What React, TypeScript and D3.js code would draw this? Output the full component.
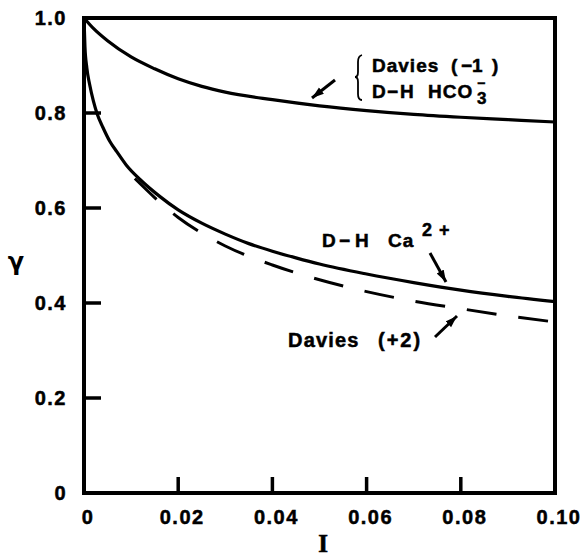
import React from "react";
import * as d3 from "d3";

const xTicks = [0, 0.02, 0.04, 0.06, 0.08, 0.1];
const xTickLabels = ["0", "0.02", "0.04", "0.06", "0.08", "0.10"];
const yTicks = [0, 0.2, 0.4, 0.6, 0.8, 1.0];
const yTickLabels = ["0", "0.2", "0.4", "0.6", "0.8", "1.0"];

// Davies (-1) / D-H HCO3-
const monoI = [0, 0.002, 0.005, 0.01, 0.015, 0.02, 0.025, 0.03, 0.04, 0.05, 0.06, 0.07, 0.08, 0.09, 0.1];
const monoG = [1.0, 0.978, 0.952, 0.918, 0.893, 0.872, 0.856, 0.844, 0.828, 0.815, 0.805, 0.797, 0.791, 0.786, 0.781];

// D-H Ca2+
const caI = [0, 0.0002, 0.0006, 0.0012, 0.002, 0.0028, 0.004, 0.0055, 0.007, 0.009, 0.0119, 0.016, 0.02, 0.025, 0.03, 0.035, 0.04, 0.045, 0.05, 0.06, 0.07, 0.08, 0.09, 0.1];
const caG = [1.0, 0.94, 0.895, 0.86, 0.825, 0.798, 0.77, 0.74, 0.718, 0.69, 0.66, 0.625, 0.596, 0.568, 0.545, 0.525, 0.509, 0.495, 0.482, 0.461, 0.443, 0.427, 0.414, 0.403];

// Davies (+2)
const dvI = [0.0108, 0.015, 0.02, 0.025, 0.03, 0.04, 0.05, 0.06, 0.07, 0.08, 0.09, 0.1];
const dvG = [0.662, 0.622, 0.58, 0.547, 0.52, 0.48, 0.449, 0.424, 0.404, 0.388, 0.373, 0.36];

const W = 584;
const H = 557;
const left = 84;
const right = 555;
const top = 18;
const bottom = 493;

const font = "'Liberation Sans', Arial, Helvetica, sans-serif";

export default function App() {
  const x = d3.scaleLinear().domain([0, 0.1]).range([left, right]);
  const y = d3.scaleLinear().domain([0, 1]).range([bottom, top]);
  const line = d3
    .line<[number, number]>()
    .x((d) => x(d[0]))
    .y((d) => y(d[1]))
    .curve(d3.curveMonotoneX);

  const mono = monoI.map((v, i) => [v, monoG[i]] as [number, number]);
  const ca = caI.map((v, i) => [v, caG[i]] as [number, number]);
  const dv = dvI.map((v, i) => [v, dvG[i]] as [number, number]);

  const textStyle = {
    fontFamily: font,
    fontWeight: 700,
    fill: "#000",
    stroke: "#000",
    strokeWidth: 0.5,
  } as const;

  return (
    <svg
      width={W}
      height={H}
      viewBox={`0 0 ${W} ${H}`}
      style={{ position: "absolute", left: 0, top: 0, background: "#fff" }}
    >
      <defs>
        <marker
          id="ah"
          markerUnits="userSpaceOnUse"
          markerWidth={14}
          markerHeight={10}
          refX={12}
          refY={4}
          orient="auto"
        >
          <path d="M0,0 L12,4 L0,8 Z" fill="#000" />
        </marker>
      </defs>

      {/* curves */}
      <path d={line(mono) || ""} fill="none" stroke="#000" strokeWidth={3.2} />
      <path d={line(ca) || ""} fill="none" stroke="#000" strokeWidth={3.2} />
      <path
        d={line(dv) || ""}
        fill="none"
        stroke="#000"
        strokeWidth={3}
        strokeDasharray="30 22"
      />

      {/* frame */}
      <rect
        x={left}
        y={top}
        width={right - left}
        height={bottom - top}
        fill="none"
        stroke="#000"
        strokeWidth={4}
      />

      {/* y ticks */}
      {yTicks.map((t, i) => (
        <g key={"y" + i}>
          {t > 0 && t < 1 && (
            <line x1={left} x2={left + 17} y1={y(t)} y2={y(t)} stroke="#000" strokeWidth={3.5} />
          )}
          <text
            x={67}
            y={y(t)}
            textAnchor="end"
            dominantBaseline="central"
            fontSize={20}
            letterSpacing={1.5}
            style={textStyle}
          >
            {yTickLabels[i]}
          </text>
        </g>
      ))}

      {/* x ticks */}
      {xTicks.map((t, i) => (
        <g key={"x" + i}>
          {t > 0 && t < 0.1 && (
            <line x1={x(t)} x2={x(t)} y1={bottom} y2={bottom - 16} stroke="#000" strokeWidth={3.5} />
          )}
          <text
            x={x(t) + 4}
            y={524}
            textAnchor="middle"
            fontSize={20}
            letterSpacing={1.5}
            style={textStyle}
          >
            {xTickLabels[i]}
          </text>
        </g>
      ))}

      {/* axis titles */}
      <text
        x={323}
        y={552}
        textAnchor="middle"
        fontSize={25}
        fontFamily="'Liberation Serif', 'DejaVu Serif', serif"
        fontWeight={700}
        stroke="#000"
        strokeWidth={0.6}
      >
        I
      </text>
      <text
        x={16}
        y={270}
        textAnchor="middle"
        fontSize={24}
        fontFamily="'DejaVu Sans', sans-serif"
        fontWeight={700}
      >
        γ
      </text>

      {/* annotation: Davies (-1) / D-H HCO3- */}
      <path
        d="M362,55 Q358,56 358,62 L358,72 Q358,77 355,77 Q358,77 358,82 L358,94 Q358,100 362,100"
        fill="none"
        stroke="#000"
        strokeWidth={1.8}
      />
      <text y={72} fontSize={19} style={textStyle}>
        <tspan x={372} letterSpacing={1}>Davies</tspan>
        <tspan x={451}>(</tspan>
        <tspan x={461}>−1</tspan>
        <tspan x={492}>)</tspan>
      </text>
      <text y={98} fontSize={19} style={textStyle}>
        <tspan x={372}>D</tspan>
        <tspan x={387}>−</tspan>
        <tspan x={400}>H</tspan>
        <tspan x={428} letterSpacing={1}>HCO</tspan>
        <tspan x={477} y={104} fontSize={17}>3</tspan>
        <tspan x={477} y={88} fontSize={14}>−</tspan>
      </text>
      <line x1={335} y1={80} x2={312} y2={98} stroke="#000" strokeWidth={3} markerEnd="url(#ah)" />

      {/* annotation: D-H Ca2+ */}
      <text y={247} fontSize={19} style={textStyle}>
        <tspan x={322}>D</tspan>
        <tspan x={339}>−</tspan>
        <tspan x={355}>H</tspan>
        <tspan x={388} letterSpacing={1}>Ca</tspan>
        <tspan x={422} y={236} fontSize={18}>2</tspan>
        <tspan x={439} y={236} fontSize={18}>+</tspan>
      </text>
      <line x1={430} y1={253} x2={446} y2={282} stroke="#000" strokeWidth={3} markerEnd="url(#ah)" />

      {/* annotation: Davies (+2) */}
      <text y={347} fontSize={20} style={textStyle}>
        <tspan x={288} letterSpacing={1.2}>Davies</tspan>
        <tspan x={378} letterSpacing={2}>(+2)</tspan>
      </text>
      <line x1={435} y1={337} x2={457} y2={316} stroke="#000" strokeWidth={3} markerEnd="url(#ah)" />
    </svg>
  );
}
